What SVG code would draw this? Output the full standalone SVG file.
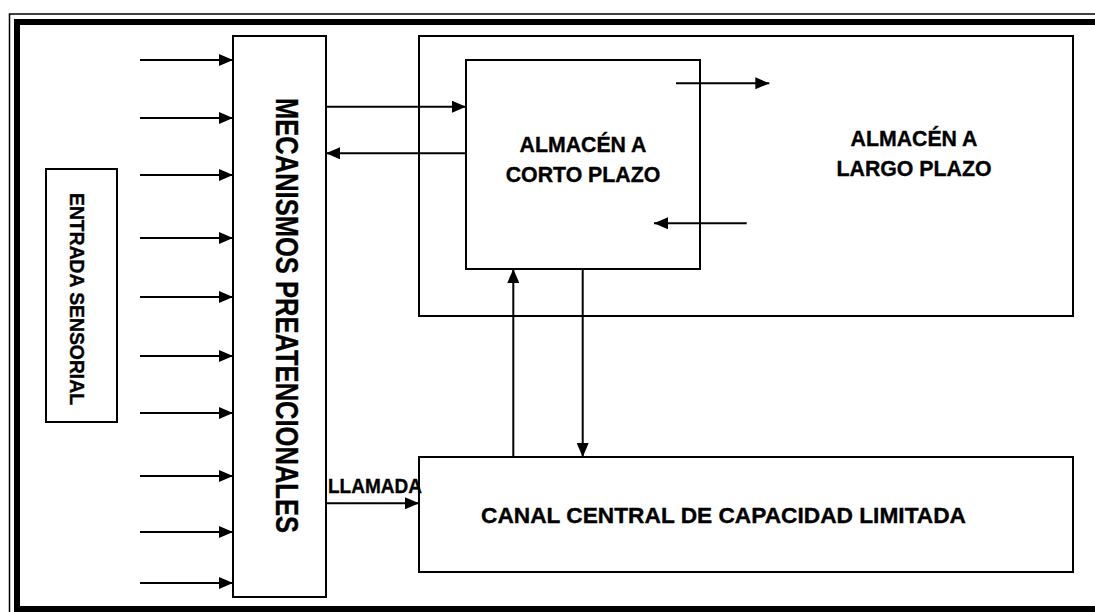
<svg xmlns="http://www.w3.org/2000/svg" width="1095" height="612" viewBox="0 0 1095 612">
<style>
.box{fill:#fff;stroke:#000;stroke-width:2}
.con{stroke:#000;stroke-width:2;fill:none;marker-end:url(#ah)}
.t{font-family:"Liberation Sans",Arial,sans-serif;font-weight:bold;fill:#000;stroke:#000;stroke-width:0.35}
</style>
<defs>
<marker id="ah" markerUnits="userSpaceOnUse" markerWidth="14" markerHeight="12" refX="14" refY="6" orient="auto">
<path d="M0,0 L14,6 L0,12 z" fill="#000"/>
</marker>
</defs>
<rect width="1095" height="612" fill="#fff"/>
<g id="frame">
<rect x="9.5" y="14" width="1100" height="620" fill="none" stroke="#000" stroke-width="1.5"/>
<rect x="17" y="22" width="1100" height="587" fill="none" stroke="#000" stroke-width="6"/>
</g>
<g id="entrada">
<rect class="box" x="46" y="169" width="71" height="253"/>
<text class="t" font-size="19.5" text-anchor="middle" transform="translate(70,299) rotate(90)" textLength="212" lengthAdjust="spacingAndGlyphs">ENTRADA SENSORIAL</text>
</g>
<g id="mecanismos">
<rect class="box" x="233" y="36" width="93" height="561"/>
<text class="t" font-size="32" text-anchor="middle" transform="translate(276,315.5) rotate(90)" textLength="435" lengthAdjust="spacingAndGlyphs">MECANISMOS PREATENCIONALES</text>
</g>
<g id="largo">
<rect class="box" x="419" y="36" width="654" height="280"/>
<text class="t" font-size="21.3" text-anchor="middle" x="914" y="146">ALMACÉN A</text>
<text class="t" font-size="21.3" text-anchor="middle" x="914" y="176">LARGO PLAZO</text>
</g>
<g id="corto">
<rect class="box" x="466" y="60" width="234" height="209"/>
<text class="t" font-size="21.3" text-anchor="middle" x="583" y="151.7">ALMACÉN A</text>
<text class="t" font-size="21.3" text-anchor="middle" x="583" y="181.7">CORTO PLAZO</text>
</g>
<g id="canal">
<rect class="box" x="419" y="457" width="654" height="115"/>
<text class="t" font-size="22.5" x="481" y="522.7" textLength="485" lengthAdjust="spacingAndGlyphs">CANAL CENTRAL DE CAPACIDAD LIMITADA</text>
</g>
<g id="connectors">
<line class="con" x1="140" y1="60" x2="233" y2="60"/>
<line class="con" x1="140" y1="118" x2="233" y2="118"/>
<line class="con" x1="140" y1="175" x2="233" y2="175"/>
<line class="con" x1="140" y1="238" x2="233" y2="238"/>
<line class="con" x1="140" y1="297" x2="233" y2="297"/>
<line class="con" x1="140" y1="356" x2="233" y2="356"/>
<line class="con" x1="140" y1="413" x2="233" y2="413"/>
<line class="con" x1="140" y1="476" x2="233" y2="476"/>
<line class="con" x1="140" y1="532" x2="233" y2="532"/>
<line class="con" x1="140" y1="583" x2="233" y2="583"/>
<line class="con" x1="326" y1="106.7" x2="466" y2="106.7"/>
<line class="con" x1="466" y1="153.3" x2="326" y2="153.3"/>
<line class="con" x1="676" y1="83.3" x2="769.3" y2="83.3"/>
<line class="con" x1="746.7" y1="223.3" x2="654" y2="223.3"/>
<line class="con" x1="513.3" y1="457" x2="513.3" y2="269"/>
<line class="con" x1="582.7" y1="269" x2="582.7" y2="457"/>
<line class="con" x1="326" y1="503.3" x2="419" y2="503.3"/>
<text class="t" font-size="20.5" x="328" y="492.7" textLength="94" lengthAdjust="spacingAndGlyphs">LLAMADA</text>
</g>
</svg>
